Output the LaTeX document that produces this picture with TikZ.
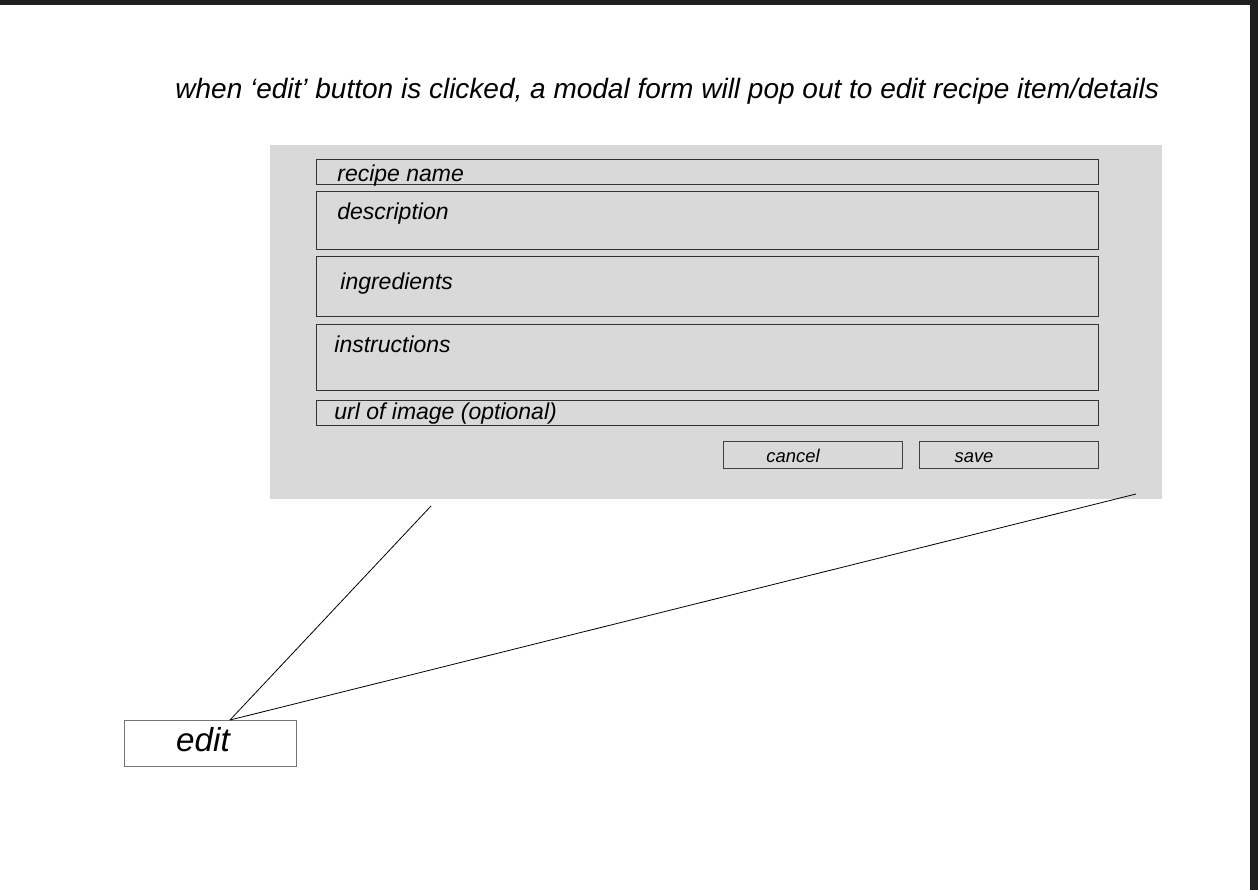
\documentclass[tikz,border=0pt]{standalone}
\usepackage{fontspec}
\setmainfont{Liberation Sans}
\usetikzlibrary{positioning}

\begin{document}
\begin{tikzpicture}[x=0.5pt, y=-0.5pt,
    field/.style={draw=black!80, line width=0.5pt, anchor=north west, inner sep=0pt, minimum width=391pt},
    btn/.style={draw=black!75, line width=0.5pt, anchor=north west, inner sep=0pt, minimum width=89.5pt, minimum height=13.5pt},
    lbl/.style={font=\itshape\fontsize{11.5}{13}\selectfont, inner sep=0pt, anchor=base west},
    wire/.style={draw=black, line width=0.4pt}]

    \useasboundingbox (0,0) rectangle (1258,890); % page size
    \fill[black!88] (0,0) rectangle (1258,5); % dark band on top
    \fill[black!88] (1250,0) rectangle (1258,890); % dark band on the right

    \node [inner sep=0pt, anchor=base west, font=\itshape\fontsize{14}{16}\selectfont] (title) at (175,98) {when ‘edit’ button is clicked, a modal form will pop out to edit recipe item/details}; % caption

    \node [fill=black!15, anchor=north west, inner sep=0pt, minimum width=446pt, minimum height=177pt] (modal) at (270,145) {}; % grey modal form
    \node [field, minimum height=12.5pt] (name) at (316,159) {}; % recipe name field
    \node [field, minimum height=29pt] (desc) at (316,191) {}; % description field
    \node [field, minimum height=30pt] (ingr) at (316,256) {}; % ingredients field
    \node [field, minimum height=33pt] (instr) at (316,324) {}; % instructions field
    \node [field, minimum height=12.5pt] (url) at (316,400) {}; % url field
    \node [btn] (cancel) at (723,441) {}; % cancel button
    \node [btn] (save) at (919,441) {}; % save button

    \node [lbl] (namelbl) at (337,181) {recipe name};
    \node [lbl] (desclbl) at (337,219) {description};
    \node [lbl] (ingrlbl) at (340,289) {ingredients};
    \node [lbl] (instrlbl) at (334,352) {instructions};
    \node [lbl] (urllbl) at (334,419) {url of image (optional)};
    \node [lbl, anchor=base, font=\itshape\fontsize{9.2}{10}\selectfont] (cancellbl) at (793,462) {cancel};
    \node [lbl, anchor=base, font=\itshape\fontsize{9.2}{10}\selectfont] (savelbl) at (974,462) {save};

    \node [draw=black!55, line width=0.6pt, anchor=north west, inner sep=0pt, minimum width=86pt, minimum height=23pt] (edit) at (124,720) {}; % edit button
    \node [lbl, anchor=base, font=\itshape\fontsize{16.6}{18}\selectfont] (editlbl) at (203,751) {edit};

    \coordinate (hinge) at (230,720); % where both lines meet on the edit button
    \coordinate (left) at (431,506); % left end under the modal
    \coordinate (right) at (1136,494); % right end inside the modal

    \draw [wire] (hinge) -- (left);
    \draw [wire] (hinge) -- (right);
\end{tikzpicture}
\end{document}
